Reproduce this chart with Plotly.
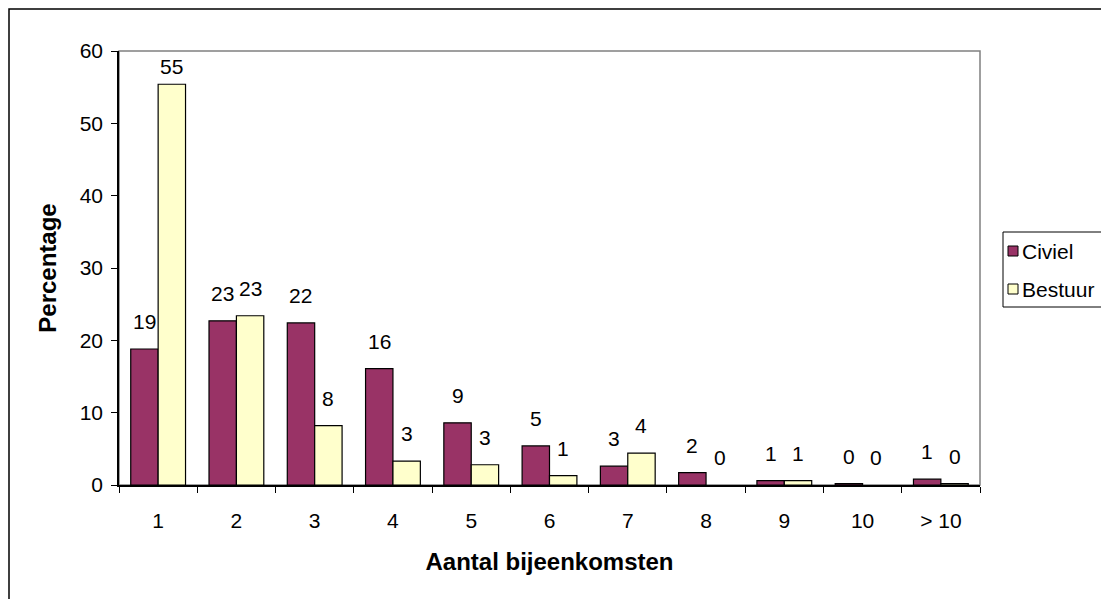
import plotly.graph_objects as go

# Data
categories = ['1', '2', '3', '4', '5', '6', '7', '8', '9', '10', '> 10']
civiel = [18.8, 22.7, 22.4, 16.1, 8.6, 5.4, 2.6, 1.7, 0.6, 0.2, 0.8]
bestuur = [55.4, 23.4, 8.2, 3.3, 2.8, 1.3, 4.4, 0.0, 0.6, 0.0, 0.2]
series_names = ['Civiel', 'Bestuur']
series_colors = ['#993366', '#FFFFCC']

font_family = 'Arial, Liberation Sans, sans-serif'
W, H = 1109, 599
OFF = 8  # page body margin
ml, mt = 119 - OFF, 51 - OFF
pw, ph = 861, 434
mr, mb = W - ml - pw, H - mt - ph


def px_x(sx):
    # screen x pixel -> paper x
    return (sx - OFF - ml) / pw


def px_y(sy):
    # screen y pixel -> paper y
    return (mt + ph - (sy - OFF)) / ph


fig = go.Figure(layout=go.Layout(width=W, height=H))

# Bars (no outline on empty bars, like Excel)
for name, vals, col in zip(series_names, [civiel, bestuur], series_colors):
    fig.add_trace(go.Bar(x=categories, y=vals, name=name, marker_color=col,
                         marker_line=dict(color='black',
                                          width=[1.2 if v > 0 else 0 for v in vals]),
                         showlegend=False))

# Data labels above the bars (Excel style, rounded)
y_max = 60
label_gap = 3.8
for vals, shift in [(civiel, -1), (bestuur, 1)]:
    for i, v in enumerate(vals):
        fig.add_annotation(x=i, y=min(v + label_gap, 57.9), text=str(round(v)),
                           showarrow=False, xshift=shift * 13.7, yanchor='middle',
                           font=dict(size=21, color='black', family=font_family))

# Outer chart border (extends past the visible image on right and bottom)
fig.add_shape(type='rect', xref='paper', yref='paper',
              x0=px_x(9), x1=px_x(W + 30), y0=px_y(H + 30), y1=px_y(9),
              line=dict(color='black', width=1.5), layer='below')

# Plot area border (grey top/right)
fig.add_shape(type='rect', xref='paper', yref='paper', x0=0, x1=1, y0=0, y1=1,
              line=dict(color='#808080', width=1.5), layer='below')

# Legend box
fig.add_shape(type='rect', xref='paper', yref='paper',
              x0=px_x(1003), x1=px_x(1125), y0=px_y(307), y1=px_y(232),
              line=dict(color='black', width=1))
for k, (name, col) in enumerate(zip(series_names, series_colors)):
    cy = 251 + k * 38
    fig.add_shape(type='rect', xref='paper', yref='paper',
                  x0=px_x(1008), x1=px_x(1018), y0=px_y(cy + 5), y1=px_y(cy - 5),
                  fillcolor=col, line=dict(color='black', width=1))
    fig.add_annotation(xref='paper', yref='paper', x=px_x(1020), y=px_y(cy),
                       text=name, showarrow=False, xanchor='left', yanchor='middle',
                       font=dict(size=21, color='black', family=font_family))

fig.update_layout(
    template='plotly_white',
    margin=dict(l=ml, r=mr, t=mt, b=mb, autoexpand=False),
    paper_bgcolor='white',
    plot_bgcolor='white',
    barmode='group',
    bargap=0.3,
    bargroupgap=0,
    font=dict(family=font_family, size=21, color='black'),
    xaxis=dict(
        type='category', automargin=False,
        showline=True, linecolor='black', linewidth=1.5,
        ticks='outside', tickson='boundaries', ticklen=6, tickcolor='black',
        showgrid=False, zeroline=False,
        ticklabelstandoff=16,
        title=dict(text='<b>Aantal bijeenkomsten</b>', standoff=22,
                   font=dict(size=24, family=font_family)),
    ),
    yaxis=dict(
        range=[0, y_max], dtick=10, automargin=False,
        showline=True, linecolor='black', linewidth=1.5,
        ticks='outside', ticklen=6, tickcolor='black',
        showgrid=False, zeroline=False,
        ticklabelstandoff=4,
        title=dict(text='<b>Percentage</b>', standoff=16,
                   font=dict(size=24, family=font_family)),
    ),
)

fig.write_html('out.html')
